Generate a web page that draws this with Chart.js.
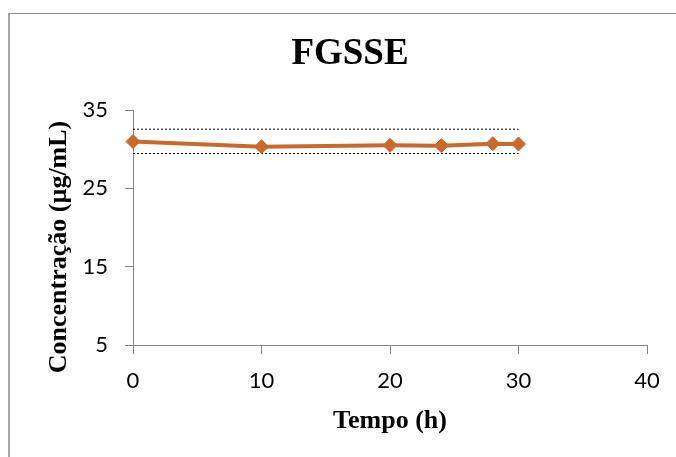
<!DOCTYPE html>
<html>
<head>
<meta charset="utf-8">
<script src="https://cdn.jsdelivr.net/npm/chart.js@4/dist/chart.umd.min.js"></script>
<style>
  html, body { margin: 0; padding: 0; background: #ffffff; }
  #wrap { position: relative; width: 676px; height: 457px; overflow: hidden; }
  #frame { position: absolute; left: 8px; top: 13px; width: 700px; height: 500px;
           border-left: 2px solid #a6a6a6; border-top: 1px solid #8c8c8c; }
  #c { position: absolute; left: 0; top: 0; }
</style>
</head>
<body>
<div id="wrap">
  <div id="frame"></div>
  <canvas id="c" width="676" height="457"></canvas>
</div>
<script>
// ---- data ----
const chartTitle = 'FGSSE';
const xAxisTitle = 'Tempo (h)';
const yAxisTitle = 'Concentração (µg/mL)';
const hours = [0, 10, 20, 24, 28, 30];
const concentration = [30.97, 30.31, 30.49, 30.45, 30.70, 30.66];
const limitHours = [0, 30];
const upperLimit = [32.55, 32.55];
const lowerLimit = [29.45, 29.45];
const xTicks = [0, 10, 20, 30, 40];
const yTicks = [5, 15, 25, 35];

const toPoints = (xs, ys) => xs.map((x, i) => ({ x: x, y: ys[i] }));

const axisGray = '#868686';
const seriesColor = '#C96A2C';

new Chart(document.getElementById('c'), {
  type: 'line',
  data: {
    datasets: [
      {
        label: 'Concentração',
        data: toPoints(hours, concentration),
        borderColor: seriesColor,
        backgroundColor: seriesColor,
        borderWidth: 4,
        pointStyle: 'rectRot',
        pointRadius: 7,
        pointBorderWidth: 1,
        pointBackgroundColor: seriesColor,
        pointBorderColor: seriesColor,
        tension: 0,
        clip: false,
        order: 0
      },
      {
        label: 'Limite superior',
        data: toPoints(limitHours, upperLimit),
        borderColor: '#000000',
        borderWidth: 1,
        borderDash: [2, 2],
        pointRadius: 0,
        clip: false,
        order: 1
      },
      {
        label: 'Limite inferior',
        data: toPoints(limitHours, lowerLimit),
        borderColor: '#000000',
        borderWidth: 1,
        borderDash: [2, 2],
        pointRadius: 0,
        clip: false,
        order: 1
      }
    ]
  },
  options: {
    responsive: false,
    animation: false,
    events: [],
    layout: { padding: { left: 24, right: 0, top: 0, bottom: 0 } },
    plugins: {
      legend: { display: false },
      tooltip: { enabled: false },
      title: {
        display: true,
        text: chartTitle,
        color: '#000000',
        font: { family: 'Liberation Serif', size: 37, weight: 'bold', lineHeight: 1.2 },
        padding: { top: 32, bottom: 33.6 }
      }
    },
    scales: {
      x: {
        type: 'linear',
        position: 'bottom',
        min: 0,
        max: 40,
        afterBuildTicks: s => { s.ticks = xTicks.map(v => ({ value: v })); },
        afterFit: s => { s.height = 112; },
        grid: { display: true, drawOnChartArea: false, drawTicks: true, tickLength: 9, color: axisGray, lineWidth: 1 },
        border: { display: true, color: axisGray, width: 1 },
        ticks: { color: '#000000', padding: 14, maxRotation: 0, font: { family: 'Lato', size: 22 } },
        title: {
          display: true,
          text: xAxisTitle,
          color: '#000000',
          font: { family: 'Liberation Serif', size: 26, weight: 'bold', lineHeight: 1.2 },
          padding: { top: 0, bottom: 20 }
        }
      },
      y: {
        type: 'linear',
        position: 'left',
        min: 5,
        max: 35,
        afterBuildTicks: s => { s.ticks = yTicks.map(v => ({ value: v })); },
        afterFit: s => { s.width = 109; },
        grid: { display: true, drawOnChartArea: false, drawTicks: true, tickLength: 8, color: axisGray, lineWidth: 1 },
        border: { display: true, color: axisGray, width: 1 },
        ticks: { color: '#000000', padding: 17, font: { family: 'Lato', size: 22 } },
        title: {
          display: true,
          text: yAxisTitle + '      ',
          color: '#000000',
          font: { family: 'Liberation Serif', size: 26, weight: 'bold', lineHeight: 1.2 },
          padding: { top: 20, bottom: 0 }
        }
      },
      yRight: {
        type: 'linear',
        position: 'right',
        display: true,
        afterFit: s => { s.width = 29; },
        grid: { display: false },
        border: { display: false },
        ticks: { display: false }
      }
    }
  }
});
</script>
</body>
</html>
